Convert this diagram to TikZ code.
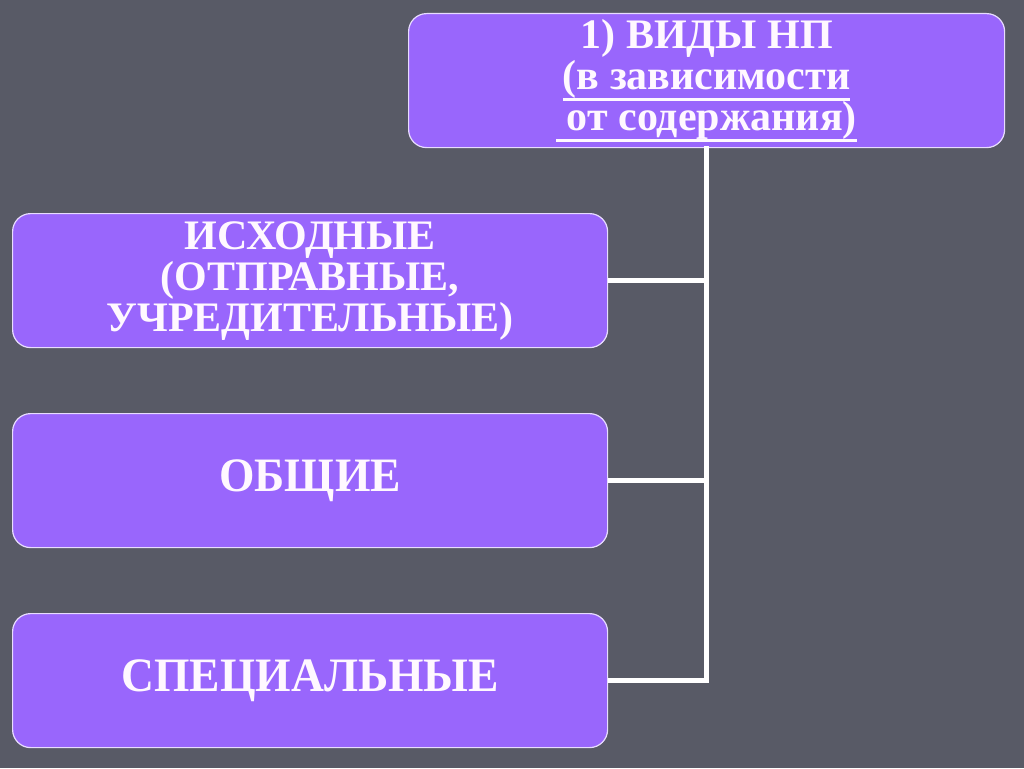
\documentclass[tikz,border=0pt]{standalone}
\usepackage{fontspec}
\setmainfont{Liberation Serif}
\newfontfamily\narrowf{Liberation Serif}[FakeStretch=0.95]
\definecolor{bgc}{HTML}{585A66}
\definecolor{boxc}{HTML}{9966FC}
\definecolor{edgec}{HTML}{E8DCFF}
\definecolor{txtc}{HTML}{FFF8FF}
\newcommand{\smallboxfont}{\fontsize{42}{41}\selectfont\bfseries\setlength{\lineskiplimit}{-60pt}}
\newcommand{\bigboxfont}{\narrowf\fontsize{48}{50}\selectfont\bfseries}
\tikzset{
  box/.style={draw=edgec, line width=1.2pt, fill=boxc, rounded corners=18pt,
    text=txtc, align=center, inner sep=0pt, anchor=north west,
    minimum height=134pt},
  smallbox/.style={box, font=\smallboxfont},
  bigbox/.style={box, font=\bigboxfont},
  link/.style={draw=white, line width=5pt},
}
\newcommand{\ulx}[1]{\setbox0\hbox{#1}\rlap{\rule[-11pt]{\wd0}{3pt}}\box0}
\begin{document}
\begin{tikzpicture}[x=1pt,y=-1pt]
\fill[bgc] (0,0) rectangle (1024,768);
\useasboundingbox (0,0) rectangle (1024,768);
\node[smallbox, minimum width=596pt] (top) at (408,13)
  {1) ВИДЫ НП\\\ulx{(в зависимости}\\\ulx{\ от содержания)}};
\node[smallbox, minimum width=595pt] (a) at (12,213)
  {ИСХОДНЫЕ\\(ОТПРАВНЫЕ,\\УЧРЕДИТЕЛЬНЫЕ)};
\node[bigbox, minimum width=595pt] (b) at (12,413) {ОБЩИЕ};
\node[bigbox, minimum width=595pt] (c) at (12,613) {СПЕЦИАЛЬНЫЕ};
\coordinate (bend) at (top.south |- c.east);
\draw[link, line cap=rect] (top.south) -- (bend);
\draw[link] (a.east) -- (a.east -| top.south);
\draw[link] (b.east) -- (b.east -| top.south);
\draw[link] (c.east) -- (bend);
\end{tikzpicture}
\end{document}
